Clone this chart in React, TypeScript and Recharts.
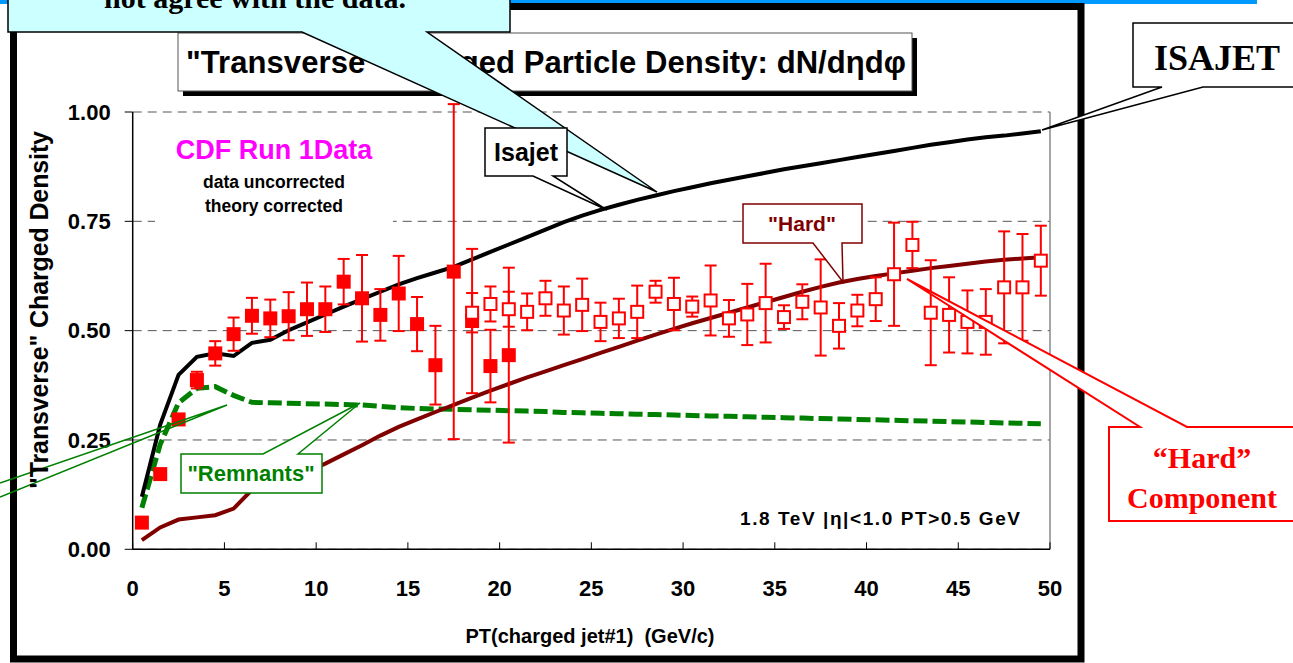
import { ComposedChart, Line, Scatter, ErrorBar, XAxis, YAxis, CartesianGrid, ReferenceLine } from 'recharts'

const SANS = "'Liberation Sans', Arial, sans-serif"
const SERIF = "'Liberation Serif', 'Times New Roman', serif"

// bin centres, PT(charged jet#1) in GeV/c
const ptBins = [
  0.5, 1.5, 2.5, 3.5, 4.5, 5.5, 6.5, 7.5, 8.5, 9.5,
  10.5, 11.5, 12.5, 13.5, 14.5, 15.5, 16.5, 17.5, 18.5, 19.5,
  20.5, 21.5, 22.5, 23.5, 24.5, 25.5, 26.5, 27.5, 28.5, 29.5,
  30.5, 31.5, 32.5, 33.5, 34.5, 35.5, 36.5, 37.5, 38.5, 39.5,
  40.5, 41.5, 42.5, 43.5, 44.5, 45.5, 46.5, 47.5, 48.5, 49.5,
]

// theory curves
const isajetTotal = [
  0.12, 0.285, 0.399, 0.44, 0.448, 0.442, 0.472, 0.479, 0.501, 0.519,
  0.537, 0.555, 0.572, 0.589, 0.606, 0.62, 0.633, 0.646, 0.663, 0.68,
  0.697, 0.714, 0.731, 0.748, 0.763, 0.776, 0.788, 0.799, 0.809, 0.819,
  0.828, 0.837, 0.845, 0.853, 0.861, 0.869, 0.876, 0.883, 0.89, 0.897,
  0.904, 0.911, 0.918, 0.925, 0.931, 0.937, 0.942, 0.946, 0.951, 0.956,
]
const hardComponent = [
  0.021, 0.05, 0.068, 0.073, 0.078, 0.093, 0.136, 0.147, 0.162, 0.178,
  0.196, 0.217, 0.238, 0.26, 0.28, 0.297, 0.314, 0.33, 0.347, 0.363,
  0.378, 0.393, 0.407, 0.421, 0.435, 0.449, 0.463, 0.477, 0.491, 0.504,
  0.517, 0.529, 0.541, 0.553, 0.565, 0.577, 0.589, 0.6, 0.61, 0.618,
  0.625, 0.631, 0.637, 0.643, 0.648, 0.653, 0.658, 0.662, 0.665, 0.668,
]
const remnants = [
  0.095, 0.24, 0.335, 0.368, 0.372, 0.352, 0.336, 0.335, 0.334, 0.333,
  0.332, 0.331, 0.33, 0.327, 0.324, 0.322, 0.321, 0.32, 0.319, 0.318,
  0.317, 0.316, 0.315, 0.313, 0.312, 0.311, 0.31, 0.309, 0.308, 0.307,
  0.306, 0.305, 0.304, 0.303, 0.302, 0.301, 0.3, 0.299, 0.298, 0.297,
  0.296, 0.295, 0.294, 0.293, 0.292, 0.291, 0.29, 0.289, 0.288, 0.287,
]

// CDF data, filled squares
const filledPt = [0.5, 1.5, 2.5, 3.5, 4.5, 5.5, 6.5, 7.5, 8.5, 9.5, 10.5, 11.5, 12.5, 13.5, 14.5, 15.5, 16.5, 17.5, 18.5, 19.5, 20.5]
const filledVal = [0.061, 0.172, 0.297, 0.387, 0.448, 0.492, 0.534, 0.528, 0.533, 0.549, 0.549, 0.612, 0.574, 0.536, 0.585, 0.515, 0.421, 0.635, 0.522, 0.419, 0.444]
const filledErr = [0.005, 0.006, 0.01, 0.019, 0.028, 0.038, 0.041, 0.043, 0.055, 0.061, 0.052, 0.052, 0.099, 0.059, 0.086, 0.062, 0.09, 0.383, 0.165, 0.083, 0.2]

// CDF data, open squares
const openPt = [
  18.5, 19.5, 20.5, 21.5, 22.5, 23.5, 24.5, 25.5, 26.5, 27.5, 28.5, 29.5, 30.5, 31.5, 32.5, 33.5,
  34.5, 35.5, 36.5, 37.5, 38.5, 39.5, 40.5, 41.5, 42.5, 43.5, 44.5, 45.5, 46.5, 47.5, 48.5, 49.5,
]
const openVal = [
  0.541, 0.561, 0.549, 0.543, 0.574, 0.546, 0.559, 0.52, 0.528, 0.543, 0.589, 0.561, 0.555, 0.569, 0.528, 0.537,
  0.563, 0.531, 0.566, 0.553, 0.511, 0.546, 0.572, 0.629, 0.696, 0.541, 0.536, 0.52, 0.52, 0.599, 0.599, 0.66,
]
const openErr = [
  0.045, 0.04, 0.04, 0.042, 0.04, 0.055, 0.06, 0.044, 0.045, 0.06, 0.025, 0.06, 0.023, 0.08, 0.042, 0.07,
  0.09, 0.027, 0.04, 0.11, 0.052, 0.036, 0.05, 0.118, 0.053, 0.12, 0.086, 0.072, 0.075, 0.128, 0.122, 0.08,
]

const xTicks = [0, 5, 10, 15, 20, 25, 30, 35, 40, 45, 50]
const yTicks = [0, 0.25, 0.5, 0.75, 1]

const isajetData = ptBins.map((x, i) => ({ x, y: isajetTotal[i] }))
const hardData = ptBins.map((x, i) => ({ x, y: hardComponent[i] }))
const remnantData = ptBins.map((x, i) => ({ x, y: remnants[i] }))
const filledData = filledPt.map((x, i) => ({ x, y: filledVal[i], err: filledErr[i] }))
const openData = openPt.map((x, i) => ({ x, y: openVal[i], err: openErr[i] }))

function FilledSquare(props: any) {
  const { cx, cy } = props
  if (cx == null || cy == null) return null
  return <rect x={cx - 7} y={cy - 7} width={14} height={14} fill="#ff0000" />
}

function OpenSquare(props: any) {
  const { cx, cy } = props
  if (cx == null || cy == null) return null
  return <rect x={cx - 6} y={cy - 6} width={12} height={12} fill="#fff" stroke="#ff0000" strokeWidth={2} />
}

const tickFont = { fontSize: 22, fontWeight: 700, fill: '#000', fontFamily: SANS }

function Overlay() {
  return (
    <svg width={1293} height={663} style={{ position: 'absolute', left: 0, top: 0, pointerEvents: 'none' }}>
      {/* title box */}
      <rect x={183} y={38} width={734} height={58} fill="#000" />
      <rect x={178} y={33} width={734} height={58} fill="#fff" stroke="#555" strokeWidth={1} />
      <text x={186} y={73} fontFamily={SANS} fontWeight={700} fontSize={31} fill="#000" textLength={720} lengthAdjust="spacing">
        "Transverse" Charged Particle Density: dN/dηdφ
      </text>

      {/* data note */}
      <rect x={155} y={128} width={238} height={96} fill="#fff" />
      <text x={274} y={159} textAnchor="middle" fontFamily={SANS} fontWeight={700} fontSize={27} fill="#ff00ff">CDF Run 1Data</text>
      <text x={274} y={188} textAnchor="middle" fontFamily={SANS} fontWeight={700} fontSize={17.5} fill="#000">data uncorrected</text>
      <text x={274} y={212} textAnchor="middle" fontFamily={SANS} fontWeight={700} fontSize={17.5} fill="#000">theory corrected</text>

      <text x={880} y={525} textAnchor="middle" fontFamily={SANS} fontWeight={700} fontSize={19} fill="#000" textLength={280} lengthAdjust="spacing">
        1.8 TeV |η|&lt;1.0 PT&gt;0.5 GeV
      </text>

      {/* big cyan callout */}
      <polygon points="8,-20 510,-20 510,32 427,32 657,192 302,32 8,32" fill="#ccffff" stroke="#000" strokeWidth={1.5} />
      <text x={255} y={8} textAnchor="middle" fontFamily={SERIF} fontWeight={700} fontSize={30} fill="#000">not agree with the data.</text>

      {/* Isajet label */}
      <polygon points="485,128 567,128 567,176 553,176 607,210 533,176 485,176" fill="#fff" stroke="#000" strokeWidth={1.5} />
      <text x={526} y={161} textAnchor="middle" fontFamily={SANS} fontWeight={700} fontSize={25} fill="#000">Isajet</text>

      {/* Hard label */}
      <polygon points="743,204 862,204 862,243 842,243 843,282 813,243 743,243" fill="#fff" stroke="#800000" strokeWidth={1.5} />
      <text x={802} y={231} textAnchor="middle" fontFamily={SANS} fontWeight={700} fontSize={21} fill="#800000">"Hard"</text>

      {/* Remnants label */}
      <polygon points="181,454 263,454 360,403 298,454 322,454 322,493 181,493" fill="#fff" stroke="#008000" strokeWidth={1.5} />
      <text x={251} y={481} textAnchor="middle" fontFamily={SANS} fontWeight={700} fontSize={22} fill="#008000">"Remnants"</text>
      <polyline points="0,483 227,405 0,497" fill="none" stroke="#008000" strokeWidth={1.5} />

      {/* Hard Component callout */}
      <polygon points="1109,427 1140,427 907,279 1187,427 1300,427 1300,521 1109,521" fill="#fff" stroke="#ff0000" strokeWidth={2} />
      <text x={1202} y={468} textAnchor="middle" fontFamily={SERIF} fontWeight={700} fontSize={30} fill="#ff0000">“Hard”</text>
      <text x={1202} y={508} textAnchor="middle" fontFamily={SERIF} fontWeight={700} fontSize={30} fill="#ff0000">Component</text>

      {/* ISAJET callout */}
      <polygon points="1133,23 1300,23 1300,87 1203,87 1042,130 1162,87 1133,87" fill="#fff" stroke="#000" strokeWidth={1.5} />
      <text x={1217} y={70} textAnchor="middle" fontFamily={SERIF} fontWeight={700} fontSize={36} fill="#000">ISAJET</text>

      {/* axis titles */}
      <text x={590} y={643} textAnchor="middle" fontFamily={SANS} fontWeight={700} fontSize={20} fill="#000" style={{ whiteSpace: 'pre' }}>
        {'PT(charged jet#1)  (GeV/c)'}
      </text>
      <text
        transform="translate(48 310) rotate(-90)"
        textAnchor="middle"
        fontFamily={SANS}
        fontWeight={700}
        fontSize={25}
        fill="#000"
        textLength={358}
        lengthAdjust="spacing"
      >
        "Transverse" Charged Density
      </text>
    </svg>
  )
}

export default function App() {
  return (
    <div style={{ position: 'absolute', left: 0, top: 0, width: 1293, height: 663, overflow: 'hidden', background: '#fff' }}>
      <svg width={1293} height={663} style={{ position: 'absolute', left: 0, top: 0 }}>
        <rect x={0} y={0} width={1257} height={4} fill="#0099ff" />
        <rect x={13.5} y={6.5} width={1067.5} height={652.5} fill="none" stroke="#000" strokeWidth={7} />
      </svg>
      <div style={{ position: 'absolute', left: 0, top: 0 }}>
        <ComposedChart width={1293} height={663} margin={{ top: 112, right: 243, bottom: 53.7, left: 72.7 }}>
          <CartesianGrid vertical={false} strokeDasharray="9 6" stroke="#555" />
          <XAxis
            type="number"
            dataKey="x"
            domain={[0, 50]}
            ticks={xTicks}
            height={60}
            tickSize={-7}
            tickMargin={38}
            tick={tickFont}
            axisLine={{ stroke: '#000', strokeWidth: 1.5 }}
            tickLine={{ stroke: '#000', strokeWidth: 1 }}
          />
          <YAxis
            type="number"
            dataKey="y"
            domain={[0, 1]}
            allowDataOverflow
            ticks={yTicks}
            width={60}
            tickSize={8}
            tickMargin={14}
            tickFormatter={(v: number) => v.toFixed(2)}
            tick={tickFont}
            axisLine={{ stroke: '#000', strokeWidth: 1.5 }}
            tickLine={{ stroke: '#000', strokeWidth: 1 }}
          />
          <ReferenceLine x={50} stroke="#888" strokeWidth={1.5} />
          <Line data={remnantData} dataKey="y" type="linear" stroke="#008000" strokeWidth={5} strokeDasharray="14 5" dot={false} activeDot={false} isAnimationActive={false} />
          <Line data={hardData} dataKey="y" type="linear" stroke="#800000" strokeWidth={4} dot={false} activeDot={false} isAnimationActive={false} />
          <Line data={isajetData} dataKey="y" type="linear" stroke="#000" strokeWidth={4} dot={false} activeDot={false} isAnimationActive={false} />
          <Scatter data={filledData} dataKey="y" shape={FilledSquare} isAnimationActive={false}>
            <ErrorBar dataKey="err" direction="y" width={6} stroke="#ff0000" strokeWidth={2} isAnimationActive={false} />
          </Scatter>
          <Scatter data={openData} dataKey="y" shape={OpenSquare} isAnimationActive={false}>
            <ErrorBar dataKey="err" direction="y" width={6} stroke="#ff0000" strokeWidth={2} isAnimationActive={false} />
          </Scatter>
        </ComposedChart>
      </div>
      <Overlay />
    </div>
  )
}
